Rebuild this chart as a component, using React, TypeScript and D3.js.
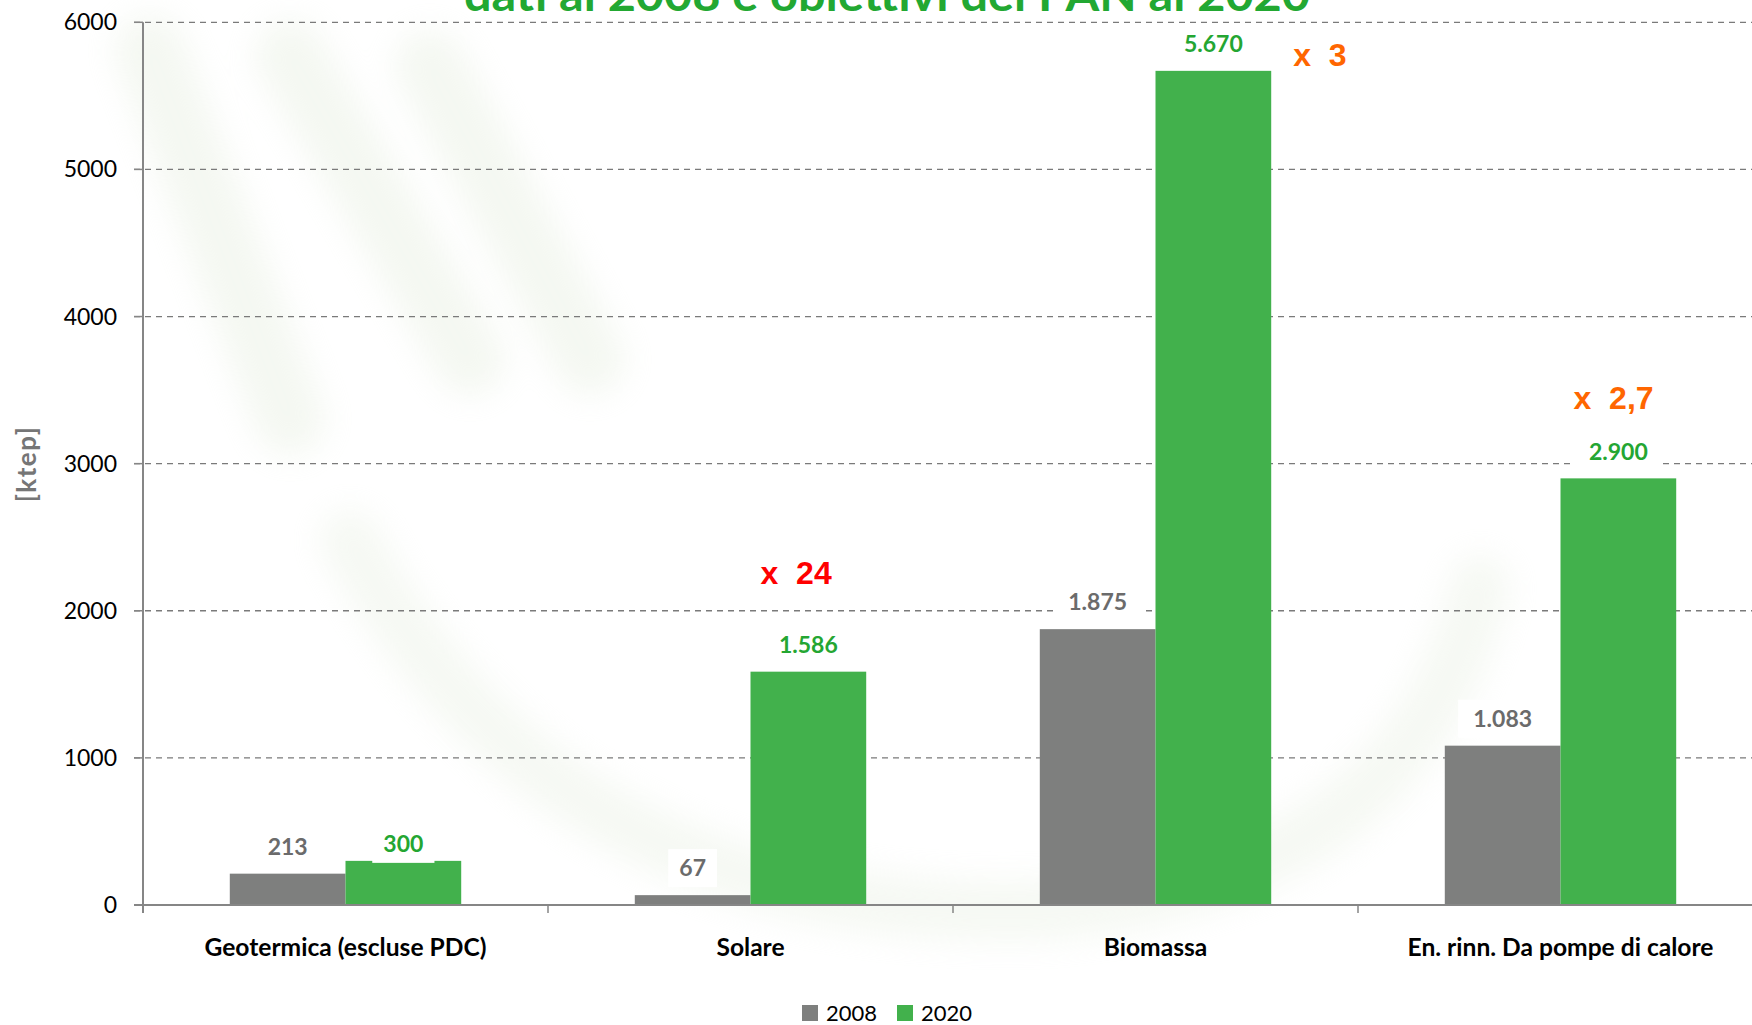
import { useEffect, useRef } from "react";
import * as d3 from "d3";

const categories = [
  "Geotermica (escluse PDC)",
  "Solare",
  "Biomassa",
  "En. rinn. Da pompe di calore",
];
const series = ["2008", "2020"];
const values2008 = [213, 67, 1875, 1083];
const values2020 = [300, 1586, 5670, 2900];
const labels2008 = ["213", "67", "1.875", "1.083"];
const labels2020 = ["300", "1.586", "5.670", "2.900"];
const yTicks = [0, 1000, 2000, 3000, 4000, 5000, 6000];
const multiplierCats = ["Solare", "Biomassa", "En. rinn. Da pompe di calore"];
const multiplierTexts = ["x  24", "x  3", "x  2,7"];

const title = "dati al 2008 e obiettivi del PAN al 2020";
const yLabel = "[ktep]";

const W = 1752;
const H = 1025;

export default function App() {
  const svgRef = useRef<SVGSVGElement>(null);

  useEffect(() => {
    if (!svgRef.current) return;
    const svg = d3.select(svgRef.current);
    svg.selectAll("*").remove();

    const colors: Record<string, string> = { "2008": "#7e7f7e", "2020": "#42b14c" };
    const labelColors: Record<string, string> = { "2008": "#6b6b6b", "2020": "#24a632" };

    const x0 = d3.scaleBand().domain(categories).range([143, 1763]).padding(0);
    const bw = x0.bandwidth();
    const x1 = d3
      .scaleBand()
      .domain(series)
      .range([bw * 0.2143, bw * 0.7857])
      .padding(0);
    const y = d3.scaleLinear().domain([0, 6000]).range([905, 22.3]);

    const rows = categories.map((c, i) => ({
      category: c,
      bars: [
        { key: "2008", value: values2008[i], label: labels2008[i] },
        { key: "2020", value: values2020[i], label: labels2020[i] },
      ],
    }));

    // faint watermark swooshes
    const defs = svg.append("defs");
    defs
      .append("filter")
      .attr("id", "blur")
      .attr("x", "-20%")
      .attr("y", "-20%")
      .attr("width", "140%")
      .attr("height", "140%")
      .append("feGaussianBlur")
      .attr("stdDeviation", 16);

    const wm = svg.append("g").attr("filter", "url(#blur)").attr("opacity", 0.32);
    const strokes = [
      "M 150 50 L 290 420",
      "M 290 55 L 470 360",
      "M 430 65 L 590 360",
    ];
    strokes.forEach((d) =>
      wm
        .append("path")
        .attr("d", d)
        .attr("stroke", "#dfe9d6")
        .attr("stroke-width", 70)
        .attr("stroke-linecap", "round")
        .attr("fill", "none")
    );
    wm.append("path")
      .attr("d", "M 350 540 Q 560 930 1050 910 Q 1410 880 1480 585")
      .attr("stroke", "#e3ecdb")
      .attr("stroke-width", 60)
      .attr("stroke-linecap", "round")
      .attr("fill", "none");

    // gridlines
    const grid = svg.append("g");
    grid
      .selectAll("line")
      .data(yTicks.filter((t) => t > 0))
      .enter()
      .append("line")
      .attr("x1", 134)
      .attr("x2", W)
      .attr("y1", (d) => y(d))
      .attr("y2", (d) => y(d))
      .attr("stroke", "#7a7a7a")
      .attr("stroke-width", 1.3)
      .attr("stroke-dasharray", "6,5");

    // y tick labels
    svg
      .append("g")
      .selectAll("text")
      .data(yTicks)
      .enter()
      .append("text")
      .attr("x", 117)
      .attr("y", (d) => y(d))
      .attr("dy", "0.35em")
      .attr("text-anchor", "end")
      .attr("font-family", "Lato, sans-serif")
      .attr("font-size", 23)
      .attr("fill", "#000")
      .text((d) => String(d));

    // y tick marks
    svg
      .append("g")
      .selectAll("line")
      .data(yTicks)
      .enter()
      .append("line")
      .attr("x1", 134)
      .attr("x2", 143)
      .attr("y1", (d) => y(d))
      .attr("y2", (d) => y(d))
      .attr("stroke", "#868686")
      .attr("stroke-width", 1.5);

    // bars
    const groups = svg
      .append("g")
      .selectAll("g")
      .data(rows)
      .enter()
      .append("g")
      .attr("transform", (d) => `translate(${x0(d.category)},0)`);

    groups
      .selectAll("rect")
      .data((d) => d.bars)
      .enter()
      .append("rect")
      .attr("x", (d) => x1(d.key) ?? 0)
      .attr("width", x1.bandwidth())
      .attr("y", (d) => y(d.value))
      .attr("height", (d) => y(0) - y(d.value))
      .attr("fill", (d) => colors[d.key]);

    // axes lines
    svg
      .append("line")
      .attr("x1", 143)
      .attr("x2", 143)
      .attr("y1", y(6000))
      .attr("y2", 913)
      .attr("stroke", "#868686")
      .attr("stroke-width", 2);
    svg
      .append("line")
      .attr("x1", 134)
      .attr("x2", W)
      .attr("y1", y(0))
      .attr("y2", y(0))
      .attr("stroke", "#868686")
      .attr("stroke-width", 2);
    svg
      .append("g")
      .selectAll("line")
      .data(categories.slice(1))
      .enter()
      .append("line")
      .attr("x1", (d) => x0(d) ?? 0)
      .attr("x2", (d) => x0(d) ?? 0)
      .attr("y1", y(0))
      .attr("y2", y(0) + 8)
      .attr("stroke", "#868686")
      .attr("stroke-width", 1.5);

    // value labels with white boxes
    const nudge: Record<string, number> = { "Geotermica (escluse PDC)|2020": 10 };
    const lab = groups
      .selectAll("g.lab")
      .data((d) => d.bars.map((b) => ({ ...b, category: d.category })))
      .enter()
      .append("g")
      .attr("class", "lab")
      .attr(
        "transform",
        (d) =>
          `translate(${(x1(d.key) ?? 0) + x1.bandwidth() / 2},${
            y(d.value) - 27 + (nudge[`${d.category}|${d.key}`] ?? 0)
          })`
      );
    lab
      .append("rect")
      .attr("x", (d) => -(d.label.length * 6.7 + 11))
      .attr("width", (d) => d.label.length * 13.4 + 22)
      .attr("y", -19)
      .attr("height", 38)
      .attr("fill", "#fff");
    lab
      .append("text")
      .attr("text-anchor", "middle")
      .attr("dy", "0.36em")
      .attr("font-family", "Lato, sans-serif")
      .attr("font-weight", 700)
      .attr("font-size", 23)
      .attr("fill", (d) => labelColors[d.key])
      .text((d) => d.label);

    // multiplier annotations
    const annPlace: Record<string, { dx: number; dy: number }> = {
      Solare: { dx: 10, dy: -88 },
      Biomassa: { dx: x1.bandwidth() + 22, dy: -5 },
      "En. rinn. Da pompe di calore": { dx: 13, dy: -69 },
    };
    multiplierCats.forEach((c, i) => {
      const v = values2020[categories.indexOf(c)];
      const p = annPlace[c];
      svg
        .append("text")
        .attr("x", (x0(c) ?? 0) + (x1("2020") ?? 0) + p.dx)
        .attr("y", y(v) + p.dy)
        .attr("font-family", "'Liberation Sans', Arial, sans-serif")
        .attr("font-weight", 700)
        .attr("font-size", 32)
        .attr("fill", i === 0 ? "#ff0000" : "#ff6600")
        .style("white-space", "pre")
        .text(multiplierTexts[i]);
    });

    // category labels
    svg
      .append("g")
      .selectAll("text")
      .data(categories)
      .enter()
      .append("text")
      .attr("x", (d) => (x0(d) ?? 0) + bw / 2)
      .attr("y", 956)
      .attr("text-anchor", "middle")
      .attr("font-family", "Lato, sans-serif")
      .attr("font-weight", 700)
      .attr("font-size", 24.6)
      .attr("fill", "#000")
      .text((d) => d);

    // y label
    svg
      .append("text")
      .attr("transform", `translate(36,464) rotate(-90)`)
      .attr("text-anchor", "middle")
      .attr("font-family", "Lato, sans-serif")
      .attr("font-weight", 700)
      .attr("font-size", 26)
      .attr("letter-spacing", 1.5)
      .attr("fill", "#767676")
      .text(yLabel);

    // title (cut off at top)
    svg
      .append("text")
      .attr("x", 887)
      .attr("y", 11)
      .attr("text-anchor", "middle")
      .attr("font-family", "Lato, sans-serif")
      .attr("font-weight", 700)
      .attr("font-size", 46)
      .attr("textLength", 846)
      .attr("lengthAdjust", "spacingAndGlyphs")
      .attr("fill", "#22a832")
      .text(title);

    // legend
    const legend = svg.append("g").attr("transform", "translate(802,1013)");
    const legendX = d3.scaleOrdinal<string, number>().domain(series).range([0, 95]);
    series.forEach((s) => {
      const gx = legendX(s);
      legend
        .append("rect")
        .attr("x", gx)
        .attr("y", -8)
        .attr("width", 16)
        .attr("height", 16)
        .attr("fill", colors[s]);
      legend
        .append("text")
        .attr("x", gx + 24)
        .attr("dy", "0.36em")
        .attr("font-family", "Lato, sans-serif")
        .attr("font-size", 22)
        .attr("fill", "#000")
        .text(s);
    });
  }, []);

  return (
    <svg
      ref={svgRef}
      width={W}
      height={H}
      viewBox={`0 0 ${W} ${H}`}
      style={{ position: "absolute", left: 0, top: 0, background: "#fff" }}
    />
  );
}
